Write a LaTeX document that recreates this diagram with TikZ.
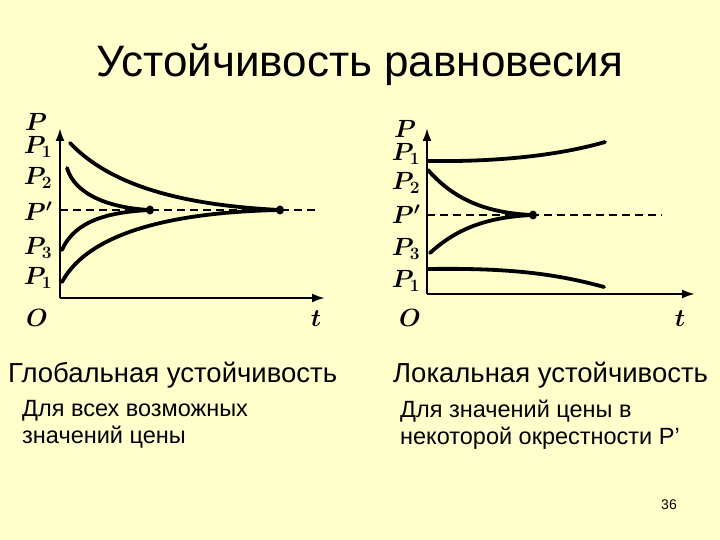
\documentclass[tikz,border=0pt]{standalone}
\usepackage{fontspec}
\setmainfont{Liberation Sans}
\usetikzlibrary{arrows.meta}
\definecolor{bg}{RGB}{255,255,204}
\begin{document}
\begin{tikzpicture}[x=1pt,y=-1pt,
 curve/.style={line width=3.8pt,line cap=round},
 axis/.style={line width=2.2pt,-{Latex[length=13pt,width=9pt]}},
 pdash/.style={line width=1.6pt,dash pattern=on 8pt off 5pt},
 lbl/.style={font=\fontsize{23}{23}\selectfont\boldmath,inner sep=0pt},
 sub/.style={font=\fontsize{27.5}{30}\selectfont,anchor=west,inner sep=0pt},
 small/.style={font=\fontsize{23.5}{27}\selectfont,anchor=north west,align=left,inner sep=0pt}]
\fill[bg] (0,0) rectangle (720,540);
\useasboundingbox (0,0) rectangle (720,540);
\node[font=\fontsize{44}{44}\selectfont] (title) at (360,65) {Устойчивость равновесия};
% left graph
\coordinate (lo) at (60,298);
\coordinate (ly) at (60,128);
\coordinate (lx) at (325,298);
\draw[axis] (lo) -- (ly);
\draw[axis] (lo) -- (lx);
\coordinate (lda) at (60,210); \coordinate (ldb) at (318,210);
\draw[pdash] (lda) -- (ldb);
\draw[curve] (70,143) .. controls (110,185) and (180,205) .. (280,210);
\draw[curve] (67,168) .. controls (75,195) and (110,208) .. (150,210);
\draw[curve] (62,250) .. controls (75,220) and (110,212) .. (150,210);
\draw[curve] (62,282) .. controls (90,230) and (180,212) .. (280,210);
\fill (150,210) ellipse (4pt and 4.5pt); \fill (280,210) ellipse (4pt and 4.5pt);
\node[lbl] (la) at (36,122) {$P$};
\node[lbl] (lb) at (38,147) {$P_1$};
\node[lbl] (lc) at (38,178) {$P_2$};
\node[lbl] (ld) at (38,211) {$P'$};
\node[lbl] (le) at (38,248) {$P_3$};
\node[lbl] (lf) at (38,278) {$P_1$};
\node[lbl] (lg) at (37,318) {$O$};
\node[lbl] (lt) at (316,319) {$t$};
% right graph
\coordinate (ro) at (427,294);
\coordinate (ry) at (427,128);
\coordinate (rx) at (695,294);
\draw[axis] (ro) -- (ry);
\draw[axis] (ro) -- (rx);
\coordinate (rda) at (427,215); \coordinate (rdb) at (662,215);
\draw[pdash] (rda) -- (rdb);
\draw[curve] (428,161) .. controls (500,162) and (560,155) .. (605,142);
\draw[curve] (428,170) .. controls (450,195) and (480,213) .. (533,215);
\draw[curve] (430,253) .. controls (455,230) and (485,217) .. (533,215);
\draw[curve] (428,269) .. controls (500,268) and (550,272) .. (604,287);
\fill (533,215) ellipse (4pt and 4.5pt);
\node[lbl] (ra) at (405,129) {$P$};
\node[lbl] (rb) at (406,154) {$P_1$};
\node[lbl] (rc) at (406,183) {$P_2$};
\node[lbl] (rd) at (406,214) {$P'$};
\node[lbl] (re) at (406,249) {$P_3$};
\node[lbl] (rf) at (406,281) {$P_1$};
\node[lbl] (rg) at (410,318) {$O$};
\node[lbl] (rt) at (680,319) {$t$};
% texts
\node[sub] (s1) at (8,375) {Глобальная устойчивость};
\node[sub] (s2) at (393,375) {Локальная устойчивость};
\node[small] (d1) at (22,400) {Для всех возможных\\значений цены};
\node[small] (d2) at (400,400) {Для значений цены в\\некоторой окрестности P'};
\node[font=\fontsize{14}{14}\selectfont] (pg) at (669,505) {36};
\end{tikzpicture}
\end{document}
